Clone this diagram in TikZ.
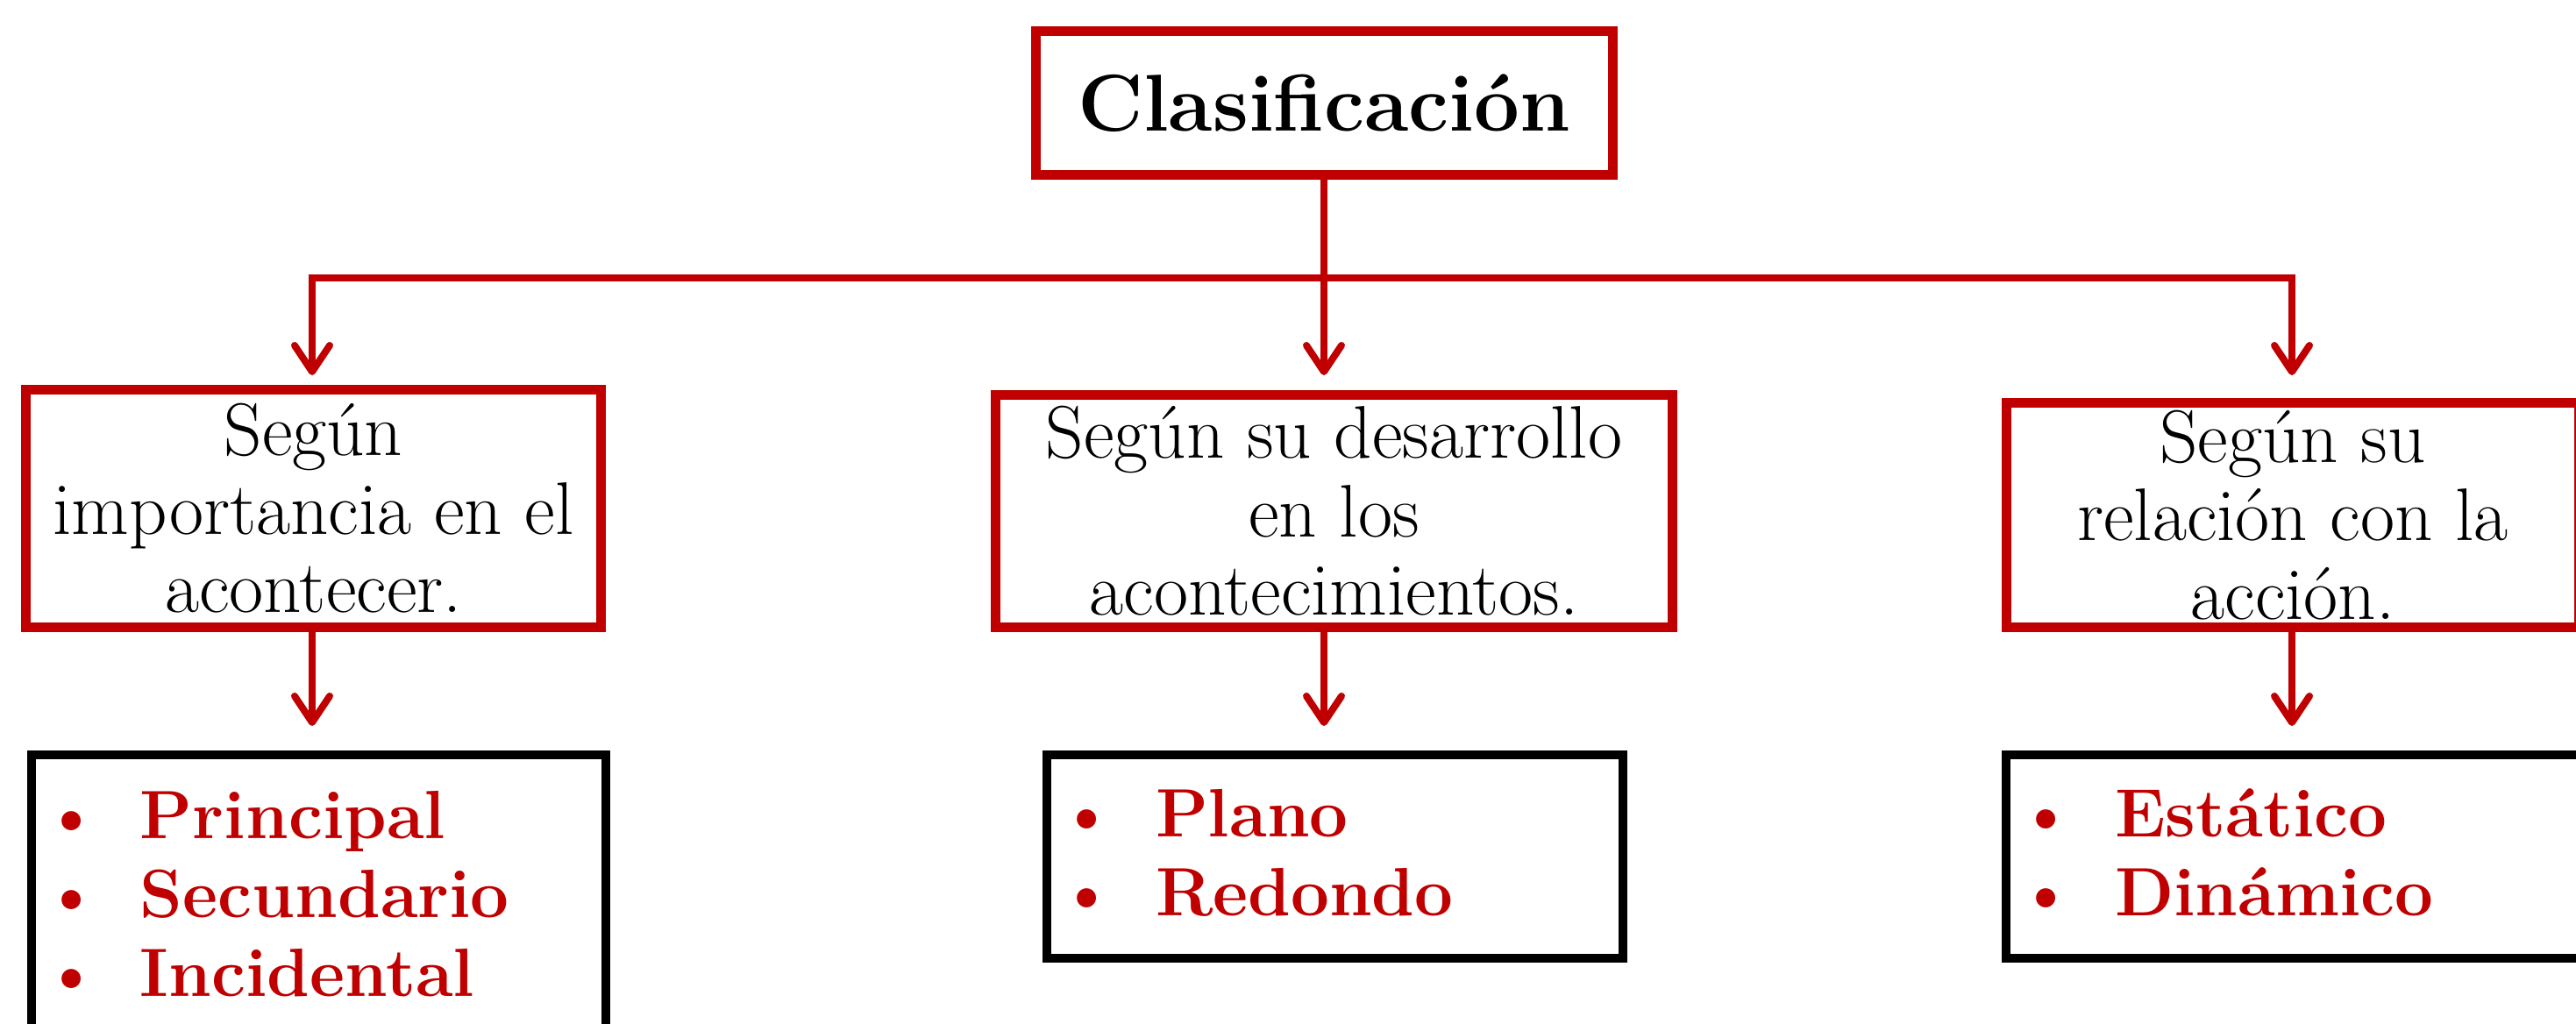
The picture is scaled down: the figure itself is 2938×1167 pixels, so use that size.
\documentclass[tikz,border=0pt]{standalone}
\usetikzlibrary{arrows.meta,calc}
\definecolor{dred}{HTML}{C00000}
\newcommand\lbul{\makebox[50.75pt][l]{\hspace*{-6pt}\raisebox{-3pt}{\scalebox{1.25}{\mdseries\textbullet}}}}
\begin{document}
\begin{tikzpicture}[x=0.5pt,y=-0.5pt,
  redbox/.style={draw=dred, line width=5.5pt, fill=white, inner sep=0pt, outer sep=0pt},
  blackbox/.style={draw=black, line width=5pt, fill=white, inner sep=0pt, outer sep=0pt},
  midtext/.style={align=center, font=\fontsize{42.5}{44.75}\selectfont},
  listtext/.style={inner sep=0pt, outer sep=0pt, text=dred, font=\fontsize{39}{45}\selectfont\bfseries},
  conn/.style={draw=dred, line width=4pt, >={Straight Barb[length=15pt,width=20pt,round]}}
]
\useasboundingbox (0,0) rectangle (2938,1167);
\fill[white] (0,0) rectangle (2938,1167);
\clip (0,0) rectangle (2938,1167);

% coordinates for the connector bracket
\coordinate (hub) at (1510,317);
\coordinate (hl) at (356,317);
\coordinate (hr) at (2614,317);
\coordinate (tipL) at (356,428);
\coordinate (tipC) at (1510,428);
\coordinate (tipR) at (2614,428);
\coordinate (tipL2) at (356,828);
\coordinate (tipC2) at (1510,828);
\coordinate (tipR2) at (2614,828);

% boxes
\node[redbox, minimum width=329pt, minimum height=82pt,
      font=\fontsize{46}{55}\selectfont\bfseries] (top) at (1510,117.5) {Clasificación};

\node[redbox, midtext, minimum width=328pt, minimum height=135.5pt] (midL) at (357.5,580)
  {Según\\importancia en el\\acontecer.};
\node[redbox, midtext, minimum width=386pt, minimum height=132.5pt] (midC) at (1521.5,583)
  {Según su desarrollo\\en los\\acontecimientos.};
\node[redbox, midtext, minimum width=326.5pt, minimum height=128pt] (midR) at (2615,587.5)
  {Según su\\relación con la\\acción.};

\node[blackbox, minimum width=327.5pt, minimum height=174.5pt] (lowL) at (363.5,1035.5) {};
\node[blackbox, minimum width=328.5pt, minimum height=116pt] (lowC) at (1522.5,977) {};
\node[blackbox, minimum width=328.5pt, minimum height=116pt] (lowR) at (2616.5,977) {};

% lists
\node[listtext, anchor=base west] (listL) at ($(lowL.north west)+(22.5,95)$)
  {\begin{tabular}[t]{@{}l@{}}\lbul Principal\\ \lbul Secundario\\ \lbul Incidental\end{tabular}};
\node[listtext, anchor=base west] (listC) at ($(lowC.north west)+(22.5,93)$)
  {\begin{tabular}[t]{@{}l@{}}\lbul Plano\\ \lbul Redondo\end{tabular}};
\node[listtext, anchor=base west] (listR) at ($(lowR.north west)+(22.5,93)$)
  {\begin{tabular}[t]{@{}l@{}}\lbul Estático\\ \lbul Dinámico\end{tabular}};

% connectors
\draw[conn, ->] (top.south) -- (tipC);
\draw[conn, <->] (tipL) -- (hl) -- (hr) -- (tipR);
\draw[conn, ->] (midL.south -| tipL2) -- (tipL2);
\draw[conn, ->] (midC.south -| tipC2) -- (tipC2);
\draw[conn, ->] (midR.south -| tipR2) -- (tipR2);
\end{tikzpicture}
\end{document}
